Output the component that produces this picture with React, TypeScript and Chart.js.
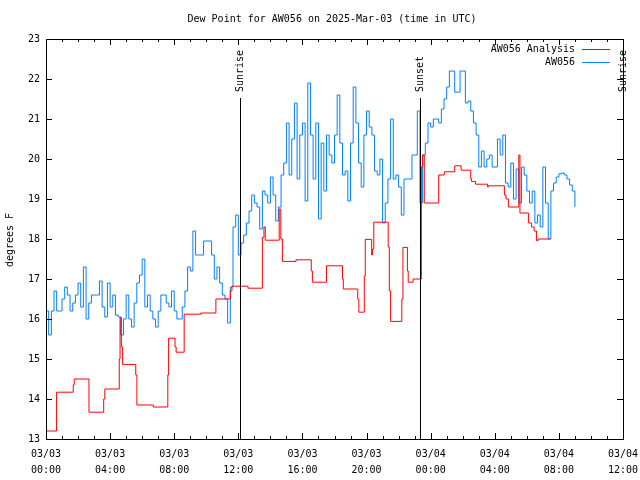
import React, { useEffect, useRef } from "react";
import { Chart, registerables } from "chart.js";

Chart.register(...registerables);

const chartTitle = "Dew Point for AW056 on 2025-Mar-03 (time in UTC)";
const yAxisTitle = "degrees F";
const seriesNames = ["AW056 Analysis", "AW056"];
const seriesColors = ["#ff0000", "#0080ff"];

const xTickHours = [0, 4, 8, 12, 16, 20, 24, 28, 32, 36];
const xTickDates = ["03/03", "03/03", "03/03", "03/03", "03/03", "03/03", "03/04", "03/04", "03/04", "03/04"];
const xTickTimes = ["00:00", "04:00", "08:00", "12:00", "16:00", "20:00", "00:00", "04:00", "08:00", "12:00"];

// sun events (hours since 03/03 00:00 UTC)
const sunTimes = [12.08, 23.35, 36.0];
const sunLabels = ["Sunrise", "Sunset", "Sunrise"];

// AW056 observations, one value every 10 minutes from 03/03 00:00
const blueStepMinutes = 10;
const blueValues = [
  16.2, 15.6, 16.2, 16.7, 16.2, 16.2,
  16.5, 16.8, 16.6, 16.2, 16.4, 16.6,
  16.9, 16.3, 17.3, 16.0, 16.4, 16.6,
  16.6, 16.6, 16.95, 16.3, 16.05, 16.9,
  16.3, 16.6, 16.1, 16.05, 15.6, 16.0,
  16.6, 16.0, 15.8, 16.4, 16.9, 17.1,
  17.5, 16.3, 16.6, 16.2, 16.0, 15.8,
  16.2, 16.6, 16.6, 16.4, 16.3, 16.7,
  16.2, 16.0, 16.0, 16.3, 16.7, 17.3,
  17.2, 18.2, 17.6, 17.6, 17.6, 17.95,
  17.95, 17.95, 17.6, 17.0, 17.3, 16.9,
  16.6, 16.5, 15.9, 16.8, 18.3, 18.6,
  17.6, 17.9, 18.1, 18.4, 18.7, 19.1,
  18.9, 18.8, 18.25, 19.2, 19.1, 18.9,
  19.55, 19.1, 18.45, 18.8, 19.6, 19.9,
  20.9, 19.6, 20.5, 21.4, 19.5, 20.6,
  20.9, 18.95, 21.9, 20.6, 19.5, 20.9,
  18.5, 20.4, 19.2, 20.6, 20.1, 19.9,
  20.6, 21.6, 20.4, 19.6, 19.7, 18.95,
  20.4, 21.8, 20.9, 19.9, 19.3, 20.6,
  21.2, 20.8, 20.6, 19.7, 19.6, 20.0,
  18.4, 18.9, 19.5, 21.0, 19.5, 19.6,
  19.3, 18.6, 19.5, 19.5, 19.5, 20.1,
  20.1, 21.2, 18.9, 20.1, 20.4, 20.9,
  20.8, 21.0, 21.0, 20.9, 21.25, 21.5,
  21.8, 22.2, 22.2, 21.67, 21.67, 22.2,
  22.2, 21.4, 21.45, 21.2, 20.9, 20.6,
  19.8, 20.2, 19.8, 20.0, 20.1, 19.8,
  19.8, 20.5, 20.1, 20.6, 19.4, 19.3,
  19.9, 19.0, 19.75, 18.9, 19.8, 19.6,
  19.2, 18.9, 19.2, 18.4, 18.6, 18.3,
  19.8, 18.9, 18.0, 19.2, 19.4, 19.55,
  19.63, 19.65, 19.6, 19.5, 19.35, 19.2,
  18.8,
];

// AW056 Analysis: step start times (hours) and values
const redTimes = [
  0, 0.66, 1.7, 1.76, 2.68, 3.6, 3.67, 4.57, 4.62, 4.7, 4.78, 5.6, 5.67, 6.7,
  7.6, 7.65, 8.05, 8.12, 8.62, 9.65, 10.6, 11.5, 11.6, 12.6, 13.5, 13.6, 13.68,
  14.55, 14.65, 14.75, 15.6, 16.55, 16.62, 17.5, 18.5, 18.55, 19.45, 19.52,
  19.86, 19.92, 20.32, 20.38, 20.45, 21.35, 21.42, 21.5, 22.2, 22.27, 22.55,
  22.6, 22.9, 23.42, 23.5, 23.6, 24.5, 24.85, 25.5, 25.9, 26.5, 26.55, 26.8,
  27.55, 27.6, 28.6, 28.7, 28.85, 29.5, 29.57, 30.1, 30.3, 30.45, 30.6, 30.7,
  31.48,
];
const redValues = [
  13.2, 14.17, 14.35, 14.5, 13.67, 14.0, 14.25, 15.0, 16.04, 15.3, 14.86, 14.6, 13.85, 13.8,
  14.6, 15.52, 15.3, 15.17, 16.12, 16.15, 16.5, 16.7, 16.82, 16.77, 18.04, 18.3, 17.97,
  18.75, 18.0, 17.44, 17.48, 17.2, 16.92, 17.33, 17.0, 16.75, 16.5, 16.17,
  17.08, 17.99, 17.6, 17.75, 18.42, 17.8, 16.7, 15.94, 16.5, 17.79, 17.2,
  16.92, 17.0, 19.8, 20.1, 18.9, 19.6, 19.68, 19.83, 19.72, 19.5, 19.44, 19.37,
  19.3, 19.33, 19.1, 19.0, 18.8, 20.1, 18.65, 18.4, 18.3, 18.2, 17.96, 18.0,
  18.0,
];

const FONT = "'DejaVu Sans Mono', 'Liberation Mono', monospace";

const overlayPlugin = {
  id: "overlay",
  afterDraw(chart: any) {
    const { ctx, chartArea: a, scales } = chart;
    const x = scales.x;
    const y = scales.y;
    ctx.save();
    ctx.strokeStyle = "#000";
    ctx.fillStyle = "#000";
    ctx.lineWidth = 1;
    // border
    ctx.strokeRect(a.left + 0.5, a.top + 0.5, a.right - a.left, a.bottom - a.top);
    ctx.beginPath();
    for (let v = 13; v <= 23; v++) {
      const py = Math.round(y.getPixelForValue(v)) + 0.5;
      ctx.moveTo(a.left, py);
      ctx.lineTo(a.left + 6, py);
      ctx.moveTo(a.right, py);
      ctx.lineTo(a.right - 6, py);
    }
    for (let h = 0; h <= 36; h++) {
      const px = Math.round(x.getPixelForValue(h)) + 0.5;
      const len = h % 4 === 0 ? 6 : 3;
      ctx.moveTo(px, a.bottom);
      ctx.lineTo(px, a.bottom - len);
      ctx.moveTo(px, a.top);
      ctx.lineTo(px, a.top + len);
    }
    ctx.stroke();

    ctx.font = "10px " + FONT;

    // x tick labels
    ctx.textAlign = "center";
    ctx.textBaseline = "middle";
    xTickHours.forEach((h, i) => {
      const px = x.getPixelForValue(h);
      ctx.fillText(xTickDates[i], px, 454);
      ctx.fillText(xTickTimes[i], px, 470);
    });

    // sun events
    sunTimes.forEach((t, i) => {
      const px = Math.round(x.getPixelForValue(t)) + 0.5;
      ctx.beginPath();
      ctx.moveTo(px, a.top + 59);
      ctx.lineTo(px, a.bottom);
      ctx.stroke();
      ctx.save();
      ctx.translate(px, a.top + 53);
      ctx.rotate(-Math.PI / 2);
      ctx.textAlign = "left";
      ctx.textBaseline = "middle";
      ctx.fillText(sunLabels[i], 0, 0);
      ctx.restore();
    });

    // legend
    ctx.textAlign = "right";
    ctx.textBaseline = "middle";
    seriesNames.forEach((name, i) => {
      const ly = 49 + i * 13;
      ctx.fillStyle = "#000";
      ctx.fillText(name, 575, ly);
      ctx.strokeStyle = seriesColors[i];
      ctx.beginPath();
      ctx.moveTo(582, ly + 0.5);
      ctx.lineTo(610, ly + 0.5);
      ctx.stroke();
    });

    // title
    ctx.fillStyle = "#000";
    ctx.textAlign = "center";
    ctx.fillText(chartTitle, 332, 19);

    // y axis title
    ctx.save();
    ctx.translate(10, 240);
    ctx.rotate(-Math.PI / 2);
    ctx.textAlign = "center";
    ctx.textBaseline = "middle";
    ctx.fillText(yAxisTitle, 0, 0);
    ctx.restore();

    ctx.restore();
  },
};

export default function App() {
  const canvasRef = useRef<HTMLCanvasElement | null>(null);

  useEffect(() => {
    const canvas = canvasRef.current;
    if (!canvas) return;
    const bluePoints = blueValues.map((v, i) => ({ x: (i * blueStepMinutes) / 60, y: v }));
    const redPoints = redTimes.map((t, i) => ({ x: t, y: redValues[i] }));

    const chart = new Chart(canvas, {
      type: "line",
      data: {
        datasets: [
          {
            label: seriesNames[0],
            data: redPoints,
            borderColor: seriesColors[0],
            borderWidth: 1,
            pointRadius: 0,
            stepped: "before",
            fill: false,
          },
          {
            label: seriesNames[1],
            data: bluePoints,
            borderColor: seriesColors[1],
            borderWidth: 1,
            pointRadius: 0,
            stepped: "before",
            fill: false,
          },
        ],
      },
      options: {
        animation: false,
        responsive: false,
        devicePixelRatio: 1,
        parsing: false as any,
        normalized: true,
        layout: { padding: { top: 39, right: 17, left: 0, bottom: 0 } },
        plugins: {
          legend: { display: false },
          title: { display: false },
          tooltip: { enabled: false },
        },
        scales: {
          x: {
            type: "linear",
            min: 0,
            max: 36,
            grid: { display: false, drawTicks: false },
            border: { display: false },
            ticks: { display: false, stepSize: 4 },
            afterFit: (scale: any) => {
              scale.height = 41;
            },
          },
          y: {
            type: "linear",
            min: 13,
            max: 23,
            grid: { display: false, drawTicks: false },
            border: { display: false },
            ticks: {
              stepSize: 1,
              padding: 6,
              color: "#000",
              font: { family: FONT, size: 10 },
            },
            afterFit: (scale: any) => {
              scale.width = 46;
            },
          },
        },
      },
      plugins: [overlayPlugin],
    });
    return () => chart.destroy();
  }, []);

  return (
    <div style={{ position: "absolute", left: 0, top: 0, width: 640, height: 480, background: "#fff" }}>
      <canvas ref={canvasRef} width={640} height={480} style={{ display: "block" }} />
    </div>
  );
}
